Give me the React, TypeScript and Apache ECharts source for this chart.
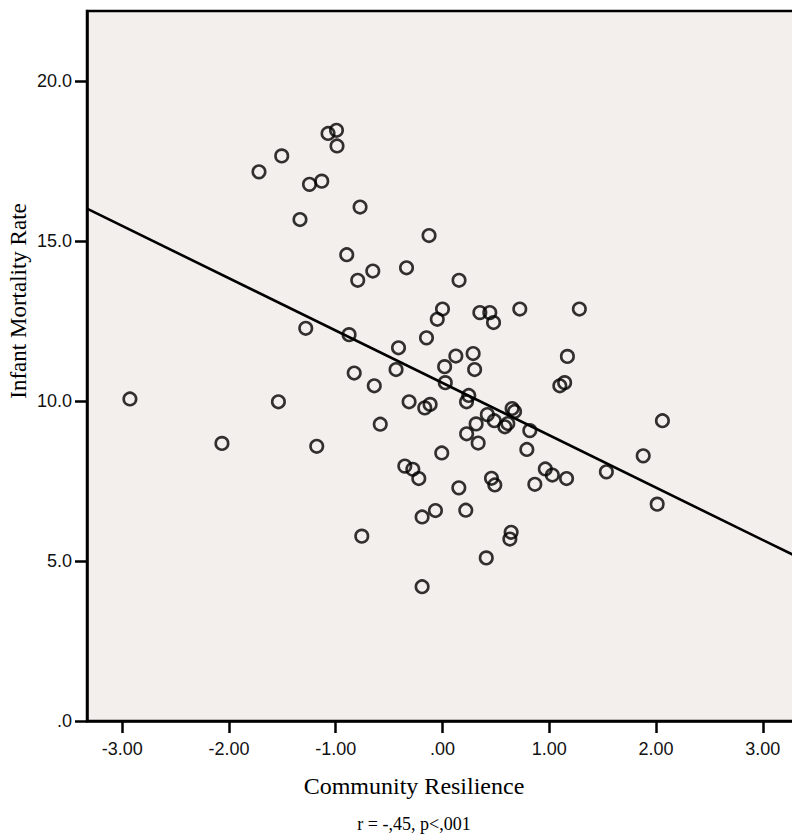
import React, { useEffect, useRef } from "react";
import * as echarts from "echarts";

// Community Resilience (x) vs Infant Mortality Rate (y)
const resilience: number[] = [
  -1.719, -1.506, -1.072, -0.993, -0.988, -1.246, -1.131, -0.772, -1.335, -0.897,
  -0.794, -0.653, -1.281, -0.875, -0.827, -0.639, -2.928, -1.537, -0.412, -0.435,
  -2.066, -1.178, -0.583, -0.756, -0.126, -0.337, 0.155, 0.0, -0.049, 0.35,
  0.443, 0.478, 0.724, 1.282, -0.15, 0.125, 0.287, 0.02, 0.301, 1.17,
  1.099, 1.144, 0.026, -0.313, -0.166, -0.116, 0.246, 0.225, 0.652, 0.675,
  0.42, 2.06, 0.315, 0.485, 0.584, 0.612, 0.226, 0.334, 0.818, 0.79,
  -0.007, -0.353, -0.278, -0.222, 0.153, 0.459, 0.49, 0.865, 0.963, 1.029,
  1.162, 1.535, 1.88, 2.011, -0.191, -0.066, 0.218, 0.643, 0.631, 0.41,
  -0.191,
];
const mortality: number[] = [
  17.17, 17.67, 18.37, 18.47, 17.98, 16.78, 16.88, 16.07, 15.68, 14.58,
  13.78, 14.07, 12.28, 12.08, 10.88, 10.48, 10.07, 9.98, 11.67, 10.99,
  8.68, 8.59, 9.28, 5.78, 15.18, 14.17, 13.78, 12.88, 12.56, 12.77,
  12.77, 12.46, 12.88, 12.88, 11.98, 11.41, 11.49, 11.08, 10.99, 11.4,
  10.48, 10.58, 10.58, 9.98, 9.79, 9.9, 10.18, 9.98, 9.77, 9.68,
  9.58, 9.39, 9.29, 9.39, 9.2, 9.3, 8.98, 8.69, 9.08, 8.49,
  8.38, 7.97, 7.87, 7.58, 7.29, 7.59, 7.38, 7.4, 7.88, 7.69,
  7.58, 7.79, 8.29, 6.78, 6.38, 6.58, 6.59, 5.9, 5.69, 5.1,
  4.2,
];
// Fitted regression line endpoints
const fitLine: number[][] = [
  [-3.33, 16.02],
  [3.33, 5.12],
];
const xTicks: number[] = [-3, -2, -1, 0, 1, 2, 3];
const yTicks: number[] = [0, 5, 10, 15, 20];

const xTitle = "Community Resilience";
const yTitle = "Infant Mortality Rate";
const footer = "r = -,45, p<,001";

function fmt(v: number, d: number): string {
  const s = v.toFixed(d);
  if (s.startsWith("0.")) return s.slice(1);
  if (s.startsWith("-0.")) return "-" + s.slice(2);
  return s;
}

export default function App() {
  const ref = useRef<HTMLDivElement>(null);
  useEffect(() => {
    document.body.style.margin = "0";
    const chart = echarts.init(ref.current!, undefined, { renderer: "svg" });
    const points = resilience.map((x, i) => [x, mortality[i]]);
    chart.setOption({
      animation: false,
      backgroundColor: "#ffffff",
      grid: {
        left: 87,
        top: 11,
        width: 711,
        height: 710,
        outerBoundsMode: "none",
        containLabel: false,
        show: true,
        backgroundColor: "#F2EFEC",
        borderColor: "#000",
        borderWidth: 2.5,
      },
      xAxis: {
        type: "value",
        min: -3.33,
        max: 3.33,
        splitLine: { show: false },
        axisLine: { show: true, onZero: false, lineStyle: { color: "#000", width: 2.5 } },
        axisTick: { show: true, length: 12, lineStyle: { color: "#000", width: 2.5 }, customValues: xTicks },
        axisLabel: {
          customValues: xTicks,
          margin: 19,
          color: "#111",
          fontFamily: "Liberation Sans",
          fontSize: 18,
          formatter: (v: number) => fmt(v, 2),
        },
      },
      yAxis: {
        type: "value",
        min: 0,
        max: 22.2,
        splitLine: { show: false },
        axisLine: { show: true, onZero: false, lineStyle: { color: "#000", width: 2.5 } },
        axisTick: { show: true, length: 12, lineStyle: { color: "#000", width: 2.5 }, customValues: yTicks },
        axisLabel: {
          customValues: yTicks,
          margin: 15,
          color: "#111",
          fontFamily: "Liberation Sans",
          fontSize: 18,
          formatter: (v: number) => fmt(v, 1),
        },
      },
      series: [
        {
          type: "line",
          data: fitLine,
          symbol: "none",
          lineStyle: { color: "#000", width: 2.6 },
          z: 2,
          silent: true,
        },
        {
          type: "scatter",
          data: points,
          symbol: "circle",
          symbolSize: 12.5,
          itemStyle: { color: "rgba(0,0,0,0)", borderColor: "#000", borderWidth: 2.6 },
          z: 3,
        },
      ],
      graphic: [
        {
          type: "text",
          x: 18,
          y: 301,
          rotation: Math.PI / 2,
          style: {
            text: yTitle,
            font: '23px "Liberation Serif"',
            fill: "#000",
            align: "center",
            verticalAlign: "middle",
          },
        },
        {
          type: "text",
          x: 414,
          y: 786,
          style: {
            text: xTitle,
            font: '24px "Liberation Serif"',
            fill: "#000",
            align: "center",
            verticalAlign: "middle",
          },
        },
        {
          type: "text",
          x: 414,
          y: 824,
          style: {
            text: footer,
            font: '18px "Liberation Serif"',
            fill: "#000",
            align: "center",
            verticalAlign: "middle",
          },
        },
      ],
    });
    return () => chart.dispose();
  }, []);
  return (
    <div style={{ width: 792, height: 835, overflow: "hidden", position: "relative" }}>
      <div ref={ref} style={{ width: 802, height: 835 }} />
    </div>
  );
}
